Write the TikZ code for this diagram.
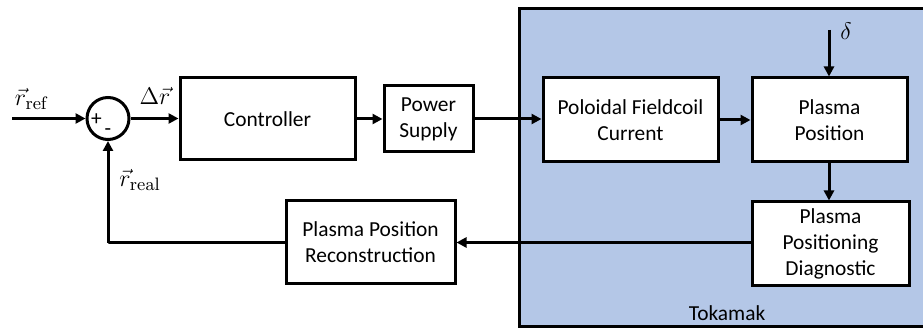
\documentclass[tikz,border=0pt]{standalone}
\usepackage[no-math]{fontspec}
\setmainfont{Carlito}
\usetikzlibrary{arrows.meta}
\definecolor{tokblue}{HTML}{B4C7E7}
\begin{document}
\begin{tikzpicture}[x=0.5pt,y=-0.5pt,
  every node/.style={font=\fontsize{10.7}{13}\selectfont},
  mlabel/.style={font=\fontsize{13}{15}\selectfont},
  blk/.style={draw,line width=1.5pt,fill=white,align=center,inner sep=0pt},
  conn/.style={line width=1.5pt,-{Triangle[length=5pt,width=5pt]}},
  plain/.style={line width=1.5pt}]
\useasboundingbox (0,0) rectangle (923,331);
\clip (0,0) rectangle (923,331);
% Tokamak region
\fill[tokblue] (519,9) rectangle (940,327);
\draw[line width=1.5pt] (940,9) -- (519,9) -- (519,327) -- (940,327);
\node (tok) at (727,313) {Tokamak};
% blocks
\node[blk,minimum width=87.5pt,minimum height=41pt] (ctrl) at (267.5,119) {Controller};
\node[blk,minimum width=44.5pt,minimum height=33pt] (ps) at (428.5,119) {Power\\Supply};
\node[blk,minimum width=87.5pt,minimum height=42pt] (pfc) at (630.5,120) {Poloidal Fieldcoil\\Current};
\node[blk,minimum width=77.5pt,minimum height=42pt] (pp) at (829.5,120) {Plasma\\Position};
\node[blk,minimum width=78.5pt,minimum height=42pt] (diag) at (830.5,244) {Plasma\\Positioning\\Diagnostic};
\node[blk,minimum width=84.5pt,minimum height=41.5pt] (rec) at (370.5,242.5) {Plasma Position\\Reconstruction};
% summing junction
\node[draw,circle,line width=1.5pt,minimum size=21pt,inner sep=0pt] (sum) at (108,118.5) {};
\node (plus) at (96.5,120) {+};
\node (minus) at (108,132) {-};
% inputs
\coordinate (rin) at (12,118.5);
\coordinate (din) at (829,30);
\coordinate (fbc) at (108,243);
\node[mlabel] (rref) at (32,99) {$\vec r_{\mathrm{ref}}$};
\node[mlabel] (dr) at (155,96) {$\Delta\vec r$};
\node[mlabel] (rreal) at (140,180) {$\vec r_{\mathrm{real}}$};
\node[mlabel] (dl) at (846,31) {$\delta$};
% connectors
\draw[conn] (rin) -- (sum);
\draw[conn] (sum) -- (ctrl.west |- sum);
\draw[conn] (ctrl) -- (ps);
\draw[conn] (ps) -- (pfc.west |- ps);
\draw[conn] (pfc) -- (pfc -| pp.west);
\draw[conn] (din) -- (pp.north -| din);
\draw[conn] (pp.south -| din) -- (diag.north -| din);
\draw[conn] (diag.west |- rec) -- (rec.east);
\draw[plain] (rec.west) -- (rec.west -| fbc) -- (fbc) ;
\draw[conn] (fbc) -- (sum.south);
\end{tikzpicture}
\end{document}
